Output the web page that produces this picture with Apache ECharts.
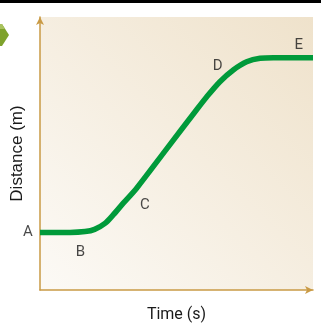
<!DOCTYPE html>
<html>
<head>
<meta charset="utf-8">
<script src="https://cdn.jsdelivr.net/npm/echarts@6/dist/echarts.min.js"></script>
<style>
  html, body { margin: 0; padding: 0; background: #fff; }
  #chart { width: 321px; height: 326px; }
</style>
</head>
<body>
<div id="chart"></div>
<script>
// curve (time s, distance m, arbitrary units 0..10)
const times = [0, 1.1, 1.65, 2.0, 2.38, 2.68, 3.05, 3.54, 4.64, 5.68, 6.11, 6.59, 7.08, 7.57, 8.06, 8.55, 10];
const distances = [2.11, 2.11, 2.14, 2.22, 2.44, 2.75, 3.18, 3.73, 5.17, 6.53, 7.08, 7.63, 8.06, 8.36, 8.49, 8.51, 8.51];

// point labels A..E
const pointNames = ['A', 'B', 'C', 'D', 'E'];
const pointTimes = [-0.44, 1.48, 3.84, 6.51, 9.48];
const pointDistances = [2.11, 1.4, 3.11, 8.21, 8.95];

const axisColor = '#c99a45';

const chart = echarts.init(document.getElementById('chart'), null, { renderer: 'canvas' });

const option = {
  animation: false,
  backgroundColor: '#fff',
  grid: {
    left: 40, right: 8, top: 17, bottom: 36,
    outerBoundsMode: 'none',
    containLabel: false,
    show: true,
    borderWidth: 0,
    backgroundColor: new echarts.graphic.LinearGradient(0, 1, 1, 0, [
      { offset: 0, color: '#fcfaf6' },
      { offset: 1, color: '#efe2cb' }
    ])
  },
  xAxis: {
    type: 'value',
    min: 0, max: 10,
    name: 'Time (s)',
    nameLocation: 'middle',
    nameGap: 17,
    nameTextStyle: { fontFamily: 'Roboto', fontSize: 16, color: '#1a1a1a' },
    axisLine: {
      show: true,
      symbol: ['none', 'arrow'],
      symbolSize: [6, 8],
      lineStyle: { color: axisColor, width: 1.5 }
    },
    axisTick: { show: false },
    axisLabel: { show: false },
    splitLine: { show: false }
  },
  yAxis: {
    type: 'value',
    min: 0, max: 10,
    name: 'Distance (m)',
    nameLocation: 'middle',
    nameRotate: 90,
    nameGap: 14,
    nameTextStyle: { fontFamily: 'Liberation Sans', fontSize: 17, color: '#1a1a1a' },
    axisLine: {
      show: true,
      symbol: ['none', 'arrow'],
      symbolSize: [6, 8],
      lineStyle: { color: axisColor, width: 1.5 }
    },
    axisTick: { show: false },
    axisLabel: { show: false },
    splitLine: { show: false }
  },
  graphic: [
    { type: 'rect', shape: { x: 0, y: 0, width: 321, height: 3 }, style: { fill: '#000' } },
    { type: 'polygon', shape: { points: [[0, 24], [2, 24], [9, 35], [2, 46], [0, 46]] }, style: { fill: '#7ea22c' } },
    { type: 'polygon', shape: { points: [[0, 24], [2, 24], [5, 29], [0, 29]] }, style: { fill: '#a9c25e' } }
  ],
  series: [
    {
      type: 'line',
      data: times.map((t, i) => [t, distances[i]]),
      smooth: 0.3,
      showSymbol: false,
      lineStyle: { color: '#009a3a', width: 5.5, cap: 'butt' }
    },
    {
      type: 'scatter',
      clip: false,
      symbolSize: 0,
      data: pointNames.map((n, i) => ({ name: n, value: [pointTimes[i], pointDistances[i]] })),
      label: {
        show: true,
        position: 'inside',
        formatter: p => p.name,
        fontFamily: 'Roboto',
        fontSize: 15,
        color: '#1a1a1a'
      }
    }
  ]
};

chart.setOption(option);
</script>
</body>
</html>
